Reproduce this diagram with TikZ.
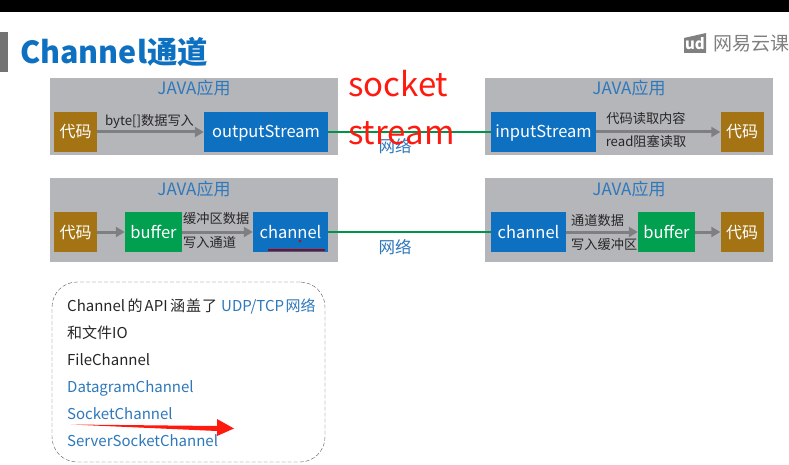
\documentclass[tikz,border=0pt]{standalone}
\usepackage{fontspec}
\setmainfont{Noto Sans CJK SC}
\usetikzlibrary{arrows.meta}
\definecolor{panelgray}{HTML}{B5B6BA}
\definecolor{codebrown}{HTML}{A47414}
\definecolor{ioblue}{HTML}{0E70C0}
\definecolor{bufgreen}{HTML}{00A050}
\definecolor{textblue}{HTML}{2E78BC}
\definecolor{arrowgray}{HTML}{7F7F82}
\definecolor{slashred}{HTML}{FF1A10}
\newcommand{\fs}[1]{\fontsize{#1}{#1}\selectfont}
\tikzset{
  panel/.style={fill=panelgray,inner sep=0pt,minimum height=#1},
  block/.style={inner sep=0pt,minimum height=40pt,text=white,font=\fs{16.5},text height=12pt,text depth=0pt},
  code/.style={block,fill=codebrown,minimum width=43pt,font=\fs{16}},
  stream/.style={block,fill=ioblue},
  buf/.style={block,fill=bufgreen,minimum width=57pt},
  flow/.style={draw=arrowgray,line width=3pt,-{Triangle[length=9pt,width=10pt]}},
  wire/.style={draw=bufgreen!92!black,line width=2.2pt},
  paneltitle/.style={text=textblue,font=\fs{17},inner sep=0pt,anchor=base},
  lab/.style={text=black!85,font=\fs{13.2},inner sep=0pt,anchor=base},
  net/.style={text=textblue,font=\fs{16.5},inner sep=0pt,anchor=base},
  note/.style={anchor=west,inner sep=0pt,font=\fs{15},text=black!85,text height=13pt,text depth=3pt},
  notelink/.style={note,text=textblue},
  slash/.style={text=slashred,font=\fs{33},inner sep=0pt,anchor=base west}
}
\begin{document}
\begin{tikzpicture}[x=1pt,y=-1pt]
\useasboundingbox (0,0) rectangle (789,465);
\fill[white] (0,0) rectangle (789,465);
\fill[black] (0,0) rectangle (789,12);
\fill[black!55] (0,32) rectangle (8,72);
\node[anchor=base west,inner sep=0pt,text=ioblue,font=\fs{30.4}\bfseries] (title) at (20,63.5) {Channel通道};
% watermark
\fill[black!50] (684,38) -- (706,33) -- (706,53) -- (684,53) -- cycle;
\node[inner sep=0pt,text=white,font=\fs{15}\bfseries] (ud) at (695,44) {ud};
\node[anchor=west,inner sep=0pt,text=black!50,font=\fs{19}] (wm) at (713,44) {网易云课};

% panels
\node[panel=77pt,minimum width=288pt] (p1) at (194,116.5) {};
\node[panel=77pt,minimum width=288pt] (p2) at (629,116.5) {};
\node[panel=84pt,minimum width=288pt] (p3) at (194,220) {};
\node[panel=84pt,minimum width=288pt] (p4) at (629,220) {};
\node[paneltitle] (t1) at (194,95) {JAVA应用};
\node[paneltitle] (t2) at (629,95) {JAVA应用};
\node[paneltitle] (t3) at (194,195.5) {JAVA应用};
\node[paneltitle] (t4) at (629,195.5) {JAVA应用};

% row 1
\node[code] (c1) at (75.5,132) {代码};
\node[stream,minimum width=124pt] (os) at (266,132) {outputStream};
\node[stream,minimum width=105pt] (is) at (543.5,132) {inputStream};
\node[code] (c2) at (742,132) {代码};
\draw[flow] (c1) -- (os);
\draw[flow] (is) -- (c2);
\draw[wire] (os) -- (is);
\node[lab] (l1) at (149.5,126) {byte[]数据写入};
\node[lab] (l2) at (646,123.5) {代码读取内容};
\node[lab] (l3) at (646,147) {read阻塞读取};
\node[net] (n1) at (395,152.5) {网络};

% row 2
\node[code] (c3) at (75.5,232) {代码};
\node[buf] (b1) at (153.5,232) {buffer};
\node[stream,minimum width=75pt] (ch1) at (290.5,232) {channel};
\node[stream,minimum width=75pt] (ch2) at (528.5,232) {channel};
\node[buf] (b2) at (666.5,232) {buffer};
\node[code] (c4) at (742,232) {代码};
\draw[flow] (c3) -- (b1);
\draw[flow] (b1) -- (ch1);
\draw[flow] (ch2) -- (b2);
\draw[flow] (b2) -- (c4);
\draw[wire] (ch1) -- (ch2);
\node[lab,anchor=base west] (l4) at (183,223.5) {缓冲区数据};
\node[lab,anchor=base west] (l5) at (183,247.5) {写入通道};
\node[lab,anchor=base west] (l6) at (571,225.5) {通道数据};
\node[lab,anchor=base west] (l7) at (571,249.5) {写入缓冲区};
\node[net] (n2) at (395,253.5) {网络};
% hand marks on channel
\draw[red!65!black,line width=1.3pt] (268,250) -- (325,250);
\fill[red!80!black] (300,241) circle (1.4);

% socket / stream annotation
\node[slash] (s1) at (348,97) {socket};
\node[slash] (s2) at (348,145) {stream};

% note
\node[draw=black!65,dash pattern=on 4pt off 2pt,rounded corners=25pt,inner sep=0pt,minimum width=273pt,minimum height=180pt] (nb) at (188.5,372) {};
\node[note] (a1) at (67,306) {Channel\hspace{2.5pt}的\hspace{2pt}API\hspace{2.5pt}涵\hspace{1pt}盖\hspace{1pt}了\hspace{4pt}\textcolor{textblue}{UDP/TCP\hspace{1.5pt}网络}};
\node[note] (a2) at (67,333) {和文件IO};
\node[note] (a3) at (67,360) {FileChannel};
\node[notelink] (a4) at (67,387) {DatagramChannel};
\node[notelink] (a5) at (67,414) {SocketChannel};
\node[notelink] (a6) at (67,441) {ServerSocketChannel};
\fill[slashred] (71,424.5) -- (217,426) -- (217,419) -- (234,428.5) -- (217,436) -- (217,431) -- cycle;
\end{tikzpicture}
\end{document}
